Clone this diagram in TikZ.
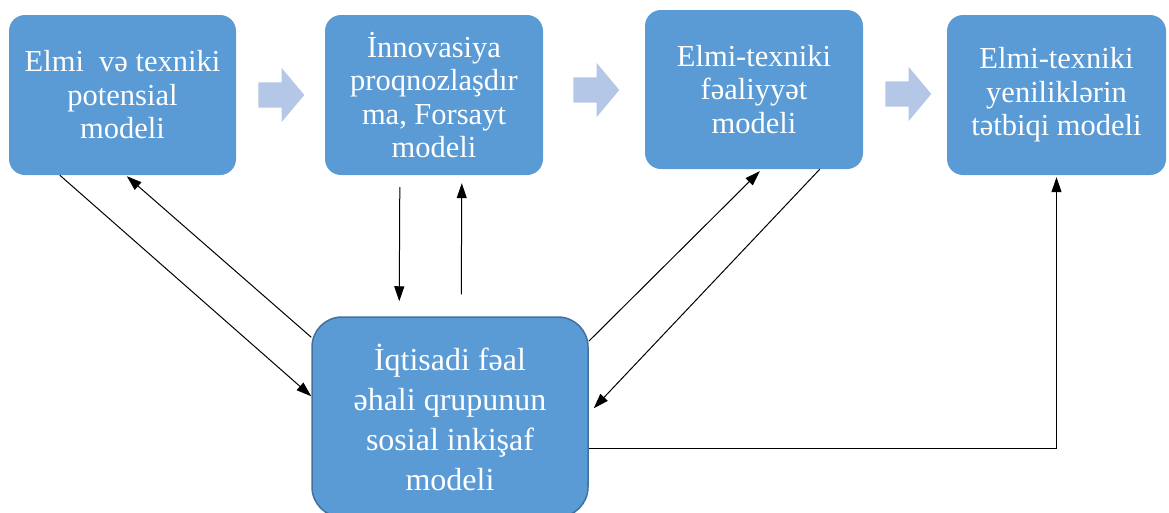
\documentclass[tikz,border=0pt]{standalone}
\usepackage{fontspec}
\setmainfont{Liberation Serif}
\usetikzlibrary{positioning,arrows.meta,shapes.arrows,calc}
\definecolor{boxblue}{HTML}{5B9BD5}
\definecolor{boxedge}{HTML}{41719C}
\definecolor{flowblue}{HTML}{B4C7E7}

\begin{document}
\begin{tikzpicture}[
    x=1pt, y=-1pt,
    >={Triangle[length=15pt,width=10pt]},
    every node/.style={align=center},
    box/.style={fill=boxblue, text=white, rounded corners=16pt, inner sep=0pt,
        font=\rmfamily\fontsize{30.5}{33.5}\selectfont},
    mainbox/.style={box, draw=boxedge, line width=1.5pt, rounded corners=30pt,
        font=\rmfamily\fontsize{32}{40}\selectfont},
    flow/.style={single arrow, fill=flowblue, draw=none, inner xsep=0pt, inner ysep=12.5pt,
        minimum height=46pt, single arrow head extend=14.5pt, single arrow tip angle=100},
    link/.style={->, line width=1pt}
]
\useasboundingbox (0,0) rectangle (1169,512);
\clip (0,0) rectangle (1169,512);

% Top row of models
\node[box, minimum width=227pt, minimum height=160pt] (potential) at (122.5,95)
    {Elmi\ \ və texniki\\potensial\\modeli};
\node[box, minimum width=218pt, minimum height=160pt] (forecast) at (434,95)
    {İnnovasiya\\proqnozlaşdır\\ma, Forsayt\\modeli};
\node[box, minimum width=218pt, minimum height=159pt] (activity) at (754,89.5)
    {Elmi-texniki\\fəaliyyət\\modeli};
\node[box, minimum width=219pt, minimum height=160pt] (apply) at (1056.5,95)
    {Elmi-texniki\\yeniliklərin\\tətbiqi modeli};

% Block arrows between them
\node[flow] (flowA) at (276,95) {};
\node[flow] (flowB) at (591,90) {};
\node[flow] (flowC) at (903,94) {};

% Bottom model
\node[mainbox, minimum width=276pt, minimum height=200pt] (social) at (450,417)
    {İqtisadi fəal\\əhali qrupunun\\sosial inkişaf\\modeli};

% Links
\draw[link] ([xshift=51pt]potential.south west) -- ([yshift=-80pt]social.north west);
\draw[link] ([yshift=-21pt]social.north west) -- ([xshift=118pt,yshift=-1pt]potential.south west);
\draw[link] ([xshift=75pt,yshift=-12pt]forecast.south west) -- ([xshift=88pt,yshift=15pt]social.north west);
\draw[link] ([xshift=150pt,yshift=22pt]social.north west) -- ([xshift=137pt,yshift=-8pt]forecast.south west);
\draw[link] ([yshift=-25pt]social.north east) -- ([xshift=115pt,yshift=-2pt]activity.south west);
\draw[link] ([xshift=175pt]activity.south west) -- ([xshift=5pt,yshift=-92pt]social.north east);
\draw[link] ([yshift=-132pt]social.north east) -| ([yshift=-2pt]apply.south);
\end{tikzpicture}
\end{document}
